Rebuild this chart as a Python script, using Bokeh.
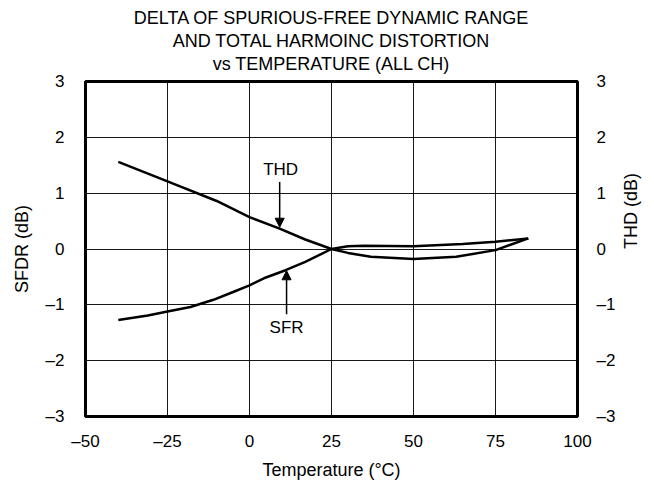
import math
from bokeh.plotting import figure
from bokeh.models import (LinearAxis, Range1d, FixedTicker, Title, Arrow, NormalHead, Label)
from bokeh.embed import file_html
from bokeh.resources import INLINE

# ---- data ----
title_lines = ["DELTA OF SPURIOUS-FREE DYNAMIC RANGE",
               "AND TOTAL HARMOINC DISTORTION",
               "vs TEMPERATURE (ALL CH)"]
x_ticks = [-50, -25, 0, 25, 50, 75, 100]
y_ticks = [-3, -2, -1, 0, 1, 2, 3]

sfr_temp = [-40, -31, -25, -18, -11, -5, 0, 5, 11, 17, 25, 30, 35, 50, 65, 75, 85]
sfr_db = [-1.27, -1.19, -1.12, -1.04, -0.91, -0.77, -0.65, -0.51, -0.38, -0.23, 0.0,
          0.05, 0.06, 0.05, 0.09, 0.13, 0.19]

thd_temp = [-40, -25, -10, 0, 9, 17, 25, 30, 37, 50, 63, 75, 85]
thd_db = [1.56, 1.21, 0.86, 0.57, 0.37, 0.17, 0.0, -0.07, -0.14, -0.18, -0.14, -0.02, 0.19]

FONT = "Liberation Sans"

p = figure(width=654, height=485, output_backend="svg", toolbar_location=None,
           x_range=Range1d(-50, 100), y_range=Range1d(-3, 3),
           min_border_left=85, min_border_right=75, min_border_top=81,
           min_border_bottom=69)

bottom_axis = p.below[0]
left_axis = p.left[0]

p.outline_line_color = "black"
p.outline_line_width = 3

minus = lambda v: ("\u2013" + str(abs(v))) if v < 0 else str(v)

def style_axis(ax, ticks, standoff, label_standoff):
    ax.ticker = FixedTicker(ticks=ticks)
    ax.major_label_overrides = {v: minus(v) for v in ticks}
    ax.axis_line_color = None
    ax.major_tick_line_color = None
    ax.minor_tick_line_color = None
    ax.major_tick_out = 0
    ax.major_tick_in = 0
    ax.minor_tick_out = 0
    ax.minor_tick_in = 0
    ax.major_label_text_font = FONT
    ax.major_label_text_font_size = "17px"
    ax.major_label_text_color = "black"
    ax.major_label_standoff = standoff
    ax.axis_label_standoff = label_standoff
    ax.axis_label_text_font = FONT
    ax.axis_label_text_font_size = "18px"
    ax.axis_label_text_font_style = "normal"
    ax.axis_label_text_color = "black"

bottom_axis.axis_label = "Temperature (°C)"
style_axis(bottom_axis, x_ticks, 15, 6)
left_axis.axis_label = "SFDR (dB)"
style_axis(left_axis, y_ticks, 21, 11)
right_axis = LinearAxis(axis_label="THD (dB)")
style_axis(right_axis, y_ticks, 19, 13)
right_axis.axis_label_orientation = math.pi / 2
p.add_layout(right_axis, "right")

# invisible spacer between the frame and the title lines (panels added first sit nearest)
spacer = LinearAxis(ticker=FixedTicker(ticks=[0]), major_label_overrides={0: ""},
                    major_label_text_font_size="1px", major_label_standoff=0,
                    major_tick_out=8, major_tick_in=0, minor_tick_out=0, minor_tick_in=0,
                    axis_line_color=None, major_tick_line_color=None,
                    minor_tick_line_color=None)
p.add_layout(spacer, "above")

# title lines: nearest line first
for t, s in zip(reversed(title_lines), [0, 1, 2]):
    p.add_layout(Title(text=t, align="center", text_font=FONT, text_font_size="18px",
                       text_font_style="normal", text_color="black", standoff=s), "above")

p.xgrid.ticker = FixedTicker(ticks=x_ticks)
p.ygrid.ticker = FixedTicker(ticks=y_ticks)
for g in (p.xgrid[0], p.ygrid[0]):
    g.grid_line_color = "black"
    g.grid_line_width = 1
    g.grid_line_alpha = 0.9

p.line(sfr_temp, sfr_db, line_color="black", line_width=2.5)
p.line(thd_temp, thd_db, line_color="black", line_width=2.5)

# annotations
p.add_layout(Label(x=9.5, y=1.42, text="THD", text_font=FONT, text_font_size="17px",
                   text_align="center", text_baseline="middle", text_color="black"))
p.add_layout(Arrow(x_start=9.2, y_start=1.2, x_end=9.2, y_end=0.39, line_width=1.5,
                   line_color="black",
                   end=NormalHead(size=9, fill_color="black", line_color="black")))
p.add_layout(Label(x=11.3, y=-1.41, text="SFR", text_font=FONT, text_font_size="17px",
                   text_align="center", text_baseline="middle", text_color="black"))
p.add_layout(Arrow(x_start=11.3, y_start=-1.17, x_end=11.3, y_end=-0.39, line_width=1.5,
                   line_color="black",
                   end=NormalHead(size=9, fill_color="black", line_color="black")))

open("out.html", "w").write(file_html(p, INLINE))
